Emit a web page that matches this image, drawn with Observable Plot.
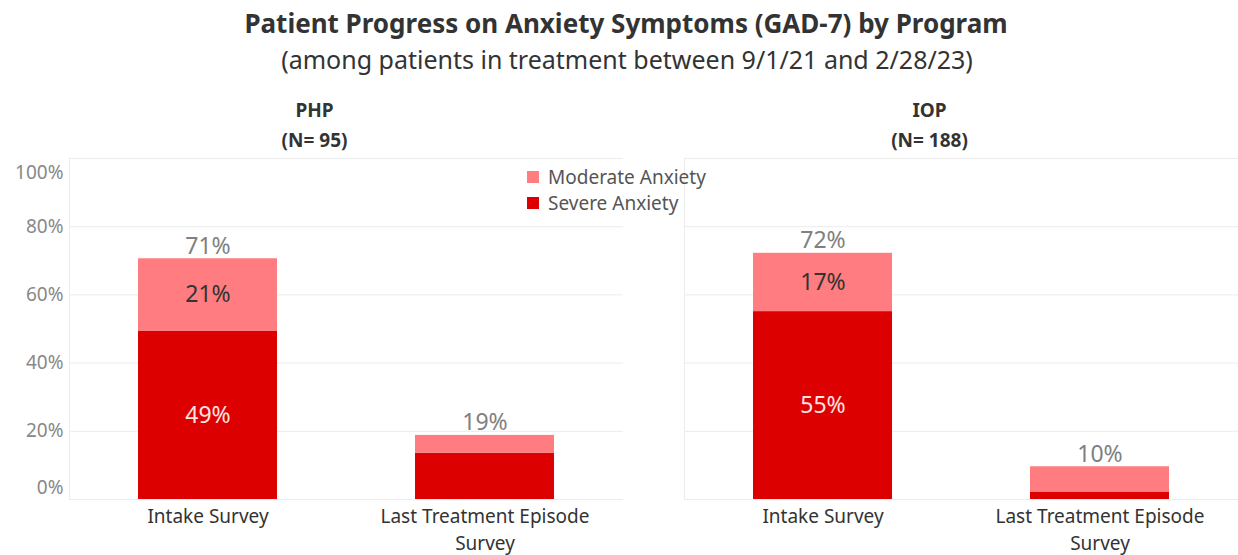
<!DOCTYPE html>
<html>
<head>
<meta charset="utf-8">
<script src="https://cdn.jsdelivr.net/npm/d3@7"></script>
<script src="https://cdn.jsdelivr.net/npm/@observablehq/plot@0.6"></script>
<style>
  body { margin: 0; background: #fff; font-family: "Noto Sans", sans-serif; }
  #wrap { position: relative; width: 1238px; height: 555px; overflow: hidden; }
  #title { position: absolute; top: 5px; left: 0; width: 1252px; text-align: center; font-size: 26px; font-weight: bold; color: #333; }
  #subtitle { position: absolute; top: 42px; left: 0; width: 1254px; text-align: center; font-size: 25px; color: #333; }
  #chart { position: absolute; top: 85px; left: 0; }
  #legend { position: absolute; left: 527px; top: 164px; font-size: 19px; color: #555; }
  .sw { display: flex; align-items: center; height: 26px; }
  .sq { width: 12px; height: 12px; margin-right: 9px; }
</style>
</head>
<body>
<div id="wrap">
  <div id="title">Patient Progress on Anxiety Symptoms (GAD-7) by Program</div>
  <div id="subtitle">(among patients in treatment between 9/1/21 and 2/28/23)</div>
  <div id="chart"></div>
  <div id="legend"></div>
</div>
<script>
const programs = ["PHP", "IOP"];
const programN = [95, 188];
const surveys = ["Intake Survey", "Last Treatment Episode Survey"];
const surveyLabels = ["Intake Survey", "Last Treatment Episode\nSurvey"];
// order: PHP intake, PHP last, IOP intake, IOP last
const severe = [49.4, 13.6, 55.1, 2.2];
const moderate = [21.2, 5.2, 17.1, 7.4];
const levels = ["Moderate Anxiety", "Severe Anxiety"];
const levelColors = ["#ff7c80", "#dd0000"];
const yTicks = [0, 20, 40, 60, 80, 100];

// build tables
const segs = [];
const totals = [];
programs.forEach((p, pi) => {
  surveys.forEach((s, si) => {
    const k = pi * 2 + si;
    const sv = severe[k], md = moderate[k];
    segs.push({program: p, survey: s, level: "Severe Anxiety", y1: 0, y2: sv, v: sv});
    segs.push({program: p, survey: s, level: "Moderate Anxiety", y1: sv, y2: sv + md, v: md});
    totals.push({program: p, survey: s, v: sv + md});
  });
});
const headers = programs.map((p, i) => ({program: p, text: `${p}\n(N= ${programN[i]})`}));
const labelOf = Object.fromEntries(surveys.map((s, i) => [s, surveyLabels[i]]));

const chart = Plot.plot({
  width: 1238,
  height: 470,
  marginLeft: 68,
  marginRight: 0,
  marginTop: 73,
  marginBottom: 56,
  style: {fontFamily: '"Noto Sans", sans-serif', background: "transparent"},
  fx: {domain: programs, paddingInner: 0.1, paddingOuter: 0, axis: null},
  x: {domain: surveys, paddingInner: 0.5, paddingOuter: 0.25, label: null},
  y: {domain: [0, 100], label: null},
  color: {domain: levels, range: levelColors},
  marks: [
    Plot.gridY(yTicks, {stroke: "#ececec", strokeOpacity: 1}),
    Plot.frame({anchor: "left", stroke: "#ececec"}),
    Plot.barY(segs, {fx: "program", x: "survey", y1: "y1", y2: "y2", fill: "level"}),
    Plot.text(segs.filter(d => d.v >= 15), {
      fx: "program", x: "survey", y: d => (d.y1 + d.y2) / 2,
      text: d => Math.round(d.v) + "%", fontSize: 23,
      fill: d => d.level === "Severe Anxiety" ? "#ffe4e4" : "#333"
    }),
    Plot.text(totals, {
      fx: "program", x: "survey", y: "v", text: d => Math.round(d.v) + "%",
      fontSize: 23, fill: "#808080", lineAnchor: "bottom", dy: -5
    }),
    Plot.text(headers, {
      fx: "program", text: "text", frameAnchor: "top", dy: -36, dx: -32,
      lineAnchor: "middle", lineHeight: 1.55, fontSize: 19, fontWeight: "bold", fill: "#333"
    }),
    Plot.axisX({tickSize: 0, tickPadding: 5, fontSize: 19, fill: "#333", lineHeight: 1.4,
      tickFormat: d => labelOf[d]}),
    Plot.axisY({ticks: [20, 40, 60, 80], tickSize: 0, tickPadding: 6, fontSize: 19, fill: "#888",
      tickFormat: d => d + "%"}),
    Plot.axisY({ticks: [0], tickSize: 0, tickPadding: 6, fontSize: 19, fill: "#888", dy: -12,
      tickFormat: d => d + "%"}),
    Plot.axisY({ticks: [100], tickSize: 0, tickPadding: 6, fontSize: 19, fill: "#888", dy: 14,
      tickFormat: d => d + "%"})
  ]
});
document.getElementById("chart").appendChild(chart);

const legend = document.getElementById("legend");
levels.forEach((l, i) => {
  const row = document.createElement("div");
  row.className = "sw";
  const sq = document.createElement("div");
  sq.className = "sq";
  sq.style.background = levelColors[i];
  const t = document.createElement("span");
  t.textContent = l;
  row.appendChild(sq);
  row.appendChild(t);
  legend.appendChild(row);
});
</script>
</body>
</html>
